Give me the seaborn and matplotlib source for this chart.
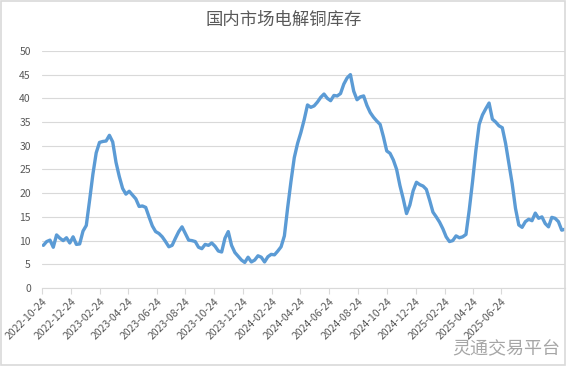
import matplotlib
matplotlib.use("Agg")
import matplotlib.pyplot as plt
import matplotlib.dates as mdates
import pandas as pd
import seaborn as sns
from matplotlib.patches import Rectangle

title = "国内市场电解铜库存"
watermark = "灵通交易平台"
start_date = "2022-10-27"
tick_labels = ["2022-10-24", "2022-12-24", "2023-02-24", "2023-04-24", "2023-06-24",
               "2023-08-24", "2023-10-24", "2023-12-24", "2024-02-24", "2024-04-24",
               "2024-06-24", "2024-08-24", "2024-10-24", "2024-12-24", "2025-02-24",
               "2025-04-24", "2025-06-24"]
yticks = [0, 5, 10, 15, 20, 25, 30, 35, 40, 45, 50]

inventory = [
    9.0, 9.8, 10.1, 8.6, 11.2, 10.5, 10.0, 10.6, 9.5, 10.8,
    9.2, 9.3, 12.0, 13.2, 18.5, 24.0, 28.5, 30.7, 30.9, 31.0,
    32.2, 30.8, 26.5, 23.5, 21.0, 19.8, 20.4, 19.6, 18.8, 17.2,
    17.3, 17.0, 15.0, 13.1, 11.9, 11.5, 10.8, 9.8, 8.7, 9.0,
    10.5, 11.9, 12.9, 11.5, 10.1, 10.0, 9.8, 8.6, 8.3, 9.2,
    9.0, 9.5, 8.8, 7.8, 7.6, 10.5, 11.9, 9.0, 7.5, 6.7,
    5.9, 5.4, 6.5, 5.5, 5.9, 6.8, 6.5, 5.5, 6.6, 7.1,
    7.0, 7.8, 8.7, 11.0, 17.0, 22.5, 27.5, 30.5, 32.8, 35.5,
    38.6, 38.1, 38.4, 39.2, 40.2, 40.9, 40.0, 39.5, 40.6, 40.5,
    41.0, 43.0, 44.3, 45.0, 41.5, 39.7, 40.3, 40.5, 38.5, 37.0,
    36.0, 35.2, 34.5, 31.9, 28.9, 28.4, 27.0, 25.0, 21.6, 18.8,
    15.7, 17.5, 20.5, 22.3, 21.8, 21.5, 20.8, 18.5, 16.0, 15.0,
    13.9, 12.5, 10.8, 9.8, 10.0, 11.0, 10.6, 10.8, 11.3, 16.5,
    22.5, 29.0, 34.5, 36.5, 37.8, 39.0, 35.6, 35.0, 34.2, 33.8,
    30.5, 26.2, 22.0, 16.8, 13.3, 12.8, 14.0, 14.5, 14.2, 15.8,
    14.7, 15.0, 13.6, 12.9, 14.9, 14.7, 14.0, 12.2, 12.4,
]

dates = pd.date_range(start_date, periods=len(inventory), freq="7D")
df = pd.DataFrame({"date": dates, "value": inventory})

sns.set_theme(style="white")
plt.rcParams["font.family"] = ["Noto Sans CJK SC", "DejaVu Sans"]

fig = plt.figure(figsize=(5.67, 3.66), dpi=100)
ax = fig.add_axes([0.074, 0.213, 0.9225, 0.648])

ax.set_ylim(0, 50)
ax.set_yticks(yticks)
ax.yaxis.grid(True, color="#d9d9d9", linewidth=0.8)
ax.set_axisbelow(True)

sns.lineplot(data=df, x="date", y="value", ax=ax, color="#5B9BD5",
             linewidth=2.4, solid_joinstyle="round")

tick_dates = pd.to_datetime(tick_labels)
ax.set_xticks(tick_dates)
ax.set_xticklabels(tick_labels, rotation=45, ha="right", rotation_mode="anchor",
                   fontsize=7.5, color="#595959")
ax.set_xlim(pd.Timestamp("2022-10-24"), pd.Timestamp("2025-11-06"))

ax.tick_params(axis="y", labelsize=7.5, labelcolor="#595959", length=0, pad=8)
ax.tick_params(axis="x", length=4, color="#d9d9d9", width=0.8, pad=2, direction="out")
ax.xaxis.set_tick_params(bottom=True)

for s in ["top", "right", "left"]:
    ax.spines[s].set_visible(False)
ax.spines["bottom"].set_color("#d9d9d9")
ax.spines["bottom"].set_linewidth(0.8)
ax.set_xlabel("")
ax.set_ylabel("")

fig.text(0.5, 0.945, title, ha="center", va="center", fontsize=12.5,
         color="#595959", fontweight="light")
fig.text(0.988, 0.045, watermark, ha="right", va="center", fontsize=13, color="#a6a6a6")

fig.patches.append(Rectangle((0.002, 0.003), 0.995, 0.994, transform=fig.transFigure,
                             fill=False, edgecolor="#d9d9d9", linewidth=1.2))

fig.savefig("out.png", dpi=100)
